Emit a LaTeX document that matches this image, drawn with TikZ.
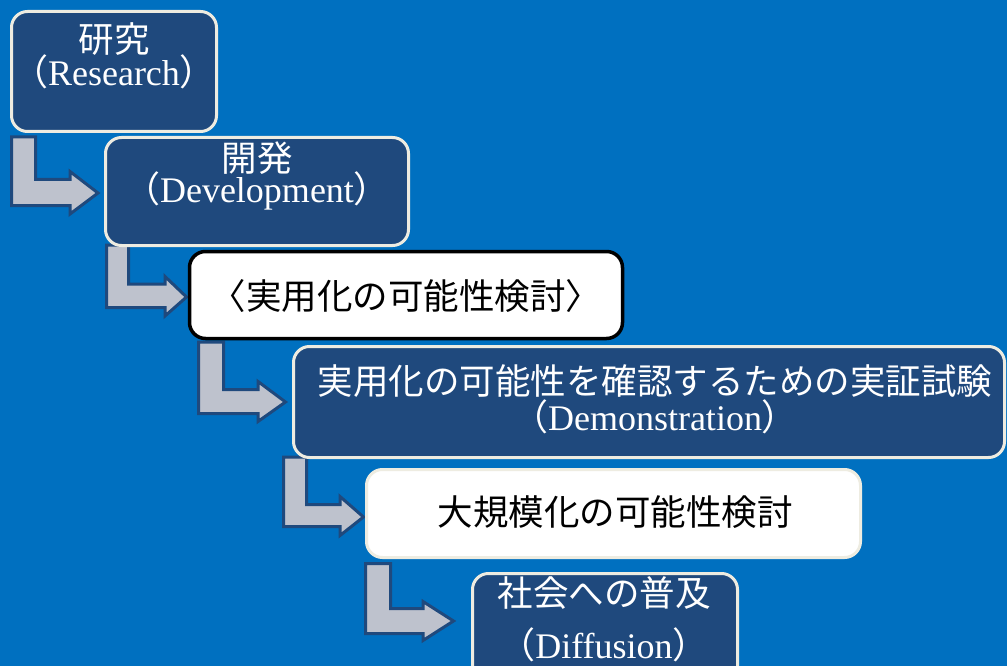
\documentclass[tikz,border=0pt]{standalone}
\usepackage{fontspec}
\setmainfont{Liberation Serif}
\newfontfamily\jp{Noto Sans CJK JP}
\definecolor{bgblue}{HTML}{0070C0}
\definecolor{darkfill}{HTML}{1F497D}
\definecolor{cream}{HTML}{EEECE1}
\definecolor{arrowfill}{HTML}{BEC2CD}
\definecolor{arrowedge}{HTML}{1F497D}
\tikzset{
  boxbase/.style={rectangle, rounded corners=16pt, inner sep=0pt, outer sep=0pt},
  darkbox/.style={boxbase, fill=darkfill, draw=cream, line width=3pt},
  whitebox/.style={boxbase, fill=white, draw=cream, line width=3pt},
  blackbox/.style={boxbase, fill=white, draw=black, line width=3.5pt},
  blockarrow/.style={fill=arrowfill, draw=arrowedge, line width=3pt, line join=miter},
  jtxt/.style={font=\jp\fontsize{35.5pt}{40pt}\selectfont, inner sep=0pt, anchor=center},
  ltxt/.style={font=\fontsize{36pt}{40pt}\selectfont, inner sep=0pt, anchor=center},
  ontdark/.style={text=white},
  ontwhite/.style={text=black}
}
\newcommand{\lp}{{\jp （}}
\newcommand{\rp}{{\jp ）}}
\begin{document}
\begin{tikzpicture}[x=1pt,y=-1pt]
\useasboundingbox (0,0) rectangle (1007,666);
\clip (0,0) rectangle (1007,666);
\fill[bgblue] (0,0) rectangle (1007,666);

% block arrows
\draw[blockarrow] (11.5,137) -- (35.5,137) -- (35.5,179.5) -- (70,179.5) -- (70,171.5) -- (98,193) -- (70,214) -- (70,205.5) -- (11.5,205.5) -- cycle;
\draw[blockarrow] (106.5,245) -- (128.5,245) -- (128.5,284) -- (165,284) -- (165,276.5) -- (186.5,297) -- (165,316) -- (165,307.5) -- (106.5,307.5) -- cycle;
\draw[blockarrow] (198.5,342) -- (223.5,342) -- (223.5,389.5) -- (258,389.5) -- (258,381.5) -- (285.5,402) -- (258,421.5) -- (258,413.5) -- (198.5,413.5) -- cycle;
\draw[blockarrow] (283.5,457) -- (306.5,457) -- (306.5,504.5) -- (340,504.5) -- (340,496.5) -- (363.5,517) -- (340,535.5) -- (340,526.5) -- (283.5,526.5) -- cycle;
\draw[blockarrow] (365.5,563.5) -- (390.5,563.5) -- (390.5,608.5) -- (423,608.5) -- (423,601.5) -- (453.5,621) -- (423,640.5) -- (423,633.5) -- (365.5,633.5) -- cycle;

% boxes
\node[darkbox, minimum width=205pt, minimum height=120pt] (b1) at (114,71.5) {};
\node[darkbox, minimum width=303pt, minimum height=108pt] (b2) at (257,191.5) {};
\node[blackbox, minimum width=433pt, minimum height=87pt] (b3) at (406,295) {};
\node[darkbox, minimum width=711pt, minimum height=111pt] (b4) at (649,402) {};
\node[whitebox, minimum width=494pt, minimum height=88pt] (b5) at (613.5,513.5) {};
\node[darkbox, minimum width=265pt, minimum height=125pt] (b6) at (605,636) {};

% texts
\node[jtxt, ontdark] (t1a) at (114,39) {研究};
\node[ltxt, ontdark] (t1b) at (114,72) {\lp Research\rp};
\node[jtxt, ontdark] (t2a) at (257,158) {開発};
\node[ltxt, ontdark] (t2b) at (257,191) {\lp Development\rp};
\node[jtxt, ontwhite] (t3) at (406,296) {〈実用化の可能性検討〉};
\node[jtxt, ontdark] (t4a) at (655,381) {実用化の可能性を確認するための実証試験};
\node[ltxt, ontdark] (t4b) at (655,417) {\lp Demonstration\rp};
\node[jtxt, ontwhite] (t5) at (615,512) {大規模化の可能性検討};
\node[jtxt, ontdark] (t6a) at (604,593) {社会への普及};
\node[ltxt, ontdark] (t6b) at (604,645) {\lp Diffusion\rp};
\end{tikzpicture}
\end{document}
